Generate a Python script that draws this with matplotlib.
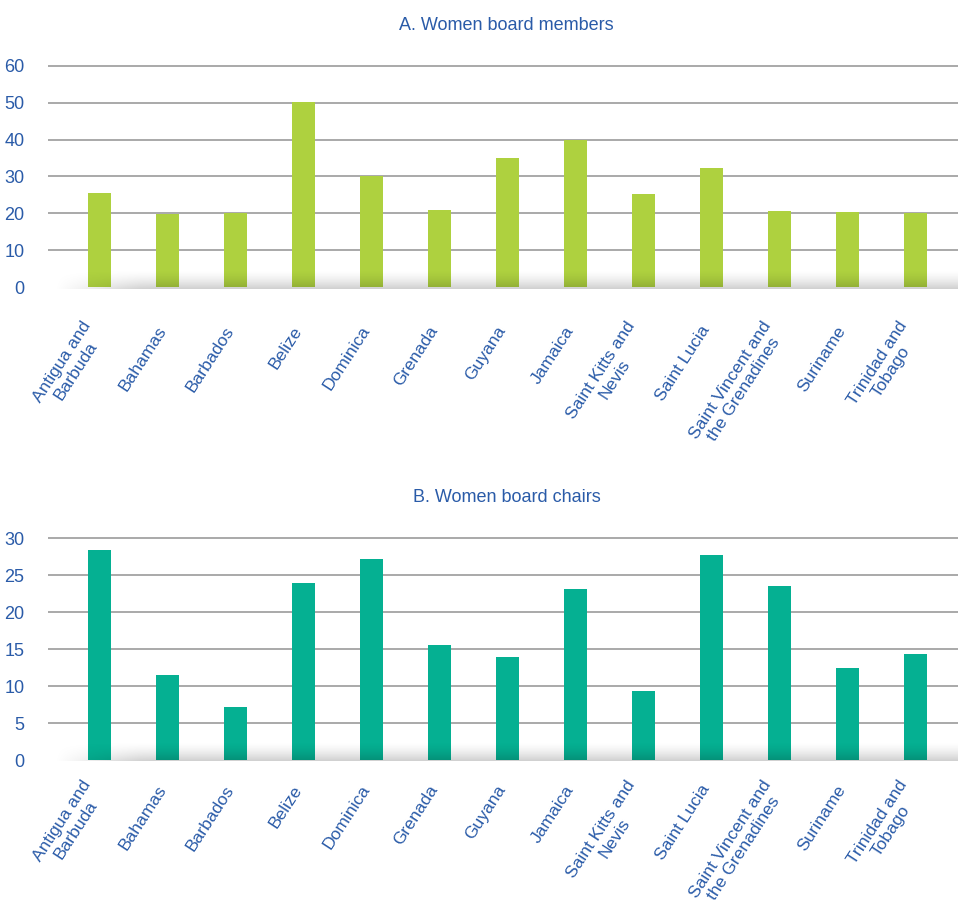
import numpy as np
import matplotlib
matplotlib.use("Agg")
import matplotlib.pyplot as plt
import matplotlib.transforms as mtransforms

plt.rcParams['font.family'] = ['Liberation Sans', 'DejaVu Sans']

countries = ["Antigua and\nBarbuda", "Bahamas", "Barbados", "Belize", "Dominica",
             "Grenada", "Guyana", "Jamaica", "Saint Kitts and\nNevis", "Saint Lucia",
             "Saint Vincent and\nthe Grenadines", "Suriname", "Trinidad and\nTobago"]
members = [25.4, 19.9, 20.2, 50.1, 30.0, 21.0, 35.0, 40.0, 25.2, 32.3, 20.5, 20.3, 20.0]
chairs = [28.4, 11.5, 7.2, 24.0, 27.2, 15.6, 14.0, 23.1, 9.3, 27.7, 23.5, 12.5, 14.3]

titles = ["A. Women board members", "B. Women board chairs"]
yticks_a = [0, 10, 20, 30, 40, 50, 60]
yticks_b = [0, 5, 10, 15, 20, 25, 30]

TXT = '#2a5ba8'
GREEN = '#aed13f'
TEAL = '#05b092'
GRID = '#a3a3a3'

fig = plt.figure(figsize=(9.58, 9.18), dpi=100)

def panel(rect, values, yticks, color, ylim, floor_h, title, title_y, xpad):
    ax = fig.add_axes(rect)
    x = np.arange(len(values))
    ax.set_xlim(-0.76, 12.63)
    ax.set_ylim(*ylim)
    for t in yticks[1:]:
        ax.axhline(t, color=GRID, lw=1.3, zorder=1)
    ax.bar(x, values, width=0.34, color=color, zorder=2)
    # floor gradient (light at top, darker at bottom)
    grad = np.zeros((64, 64, 4))
    a = 0.19 * np.linspace(0, 1, 64) ** 1.6
    grad[:, :, 3] = a[:, None]
    xfade = np.clip(np.linspace(0, 1, 64) * 10, 0, 1)
    grad[:, :, 3] *= xfade[None, :]
    ax.imshow(grad, extent=(-0.76, 12.63, ylim[0], floor_h), aspect='auto',
              origin='upper', zorder=3, interpolation='bilinear')
    ax.set_xlim(-0.76, 12.63)
    ax.set_ylim(*ylim)
    ax.set_yticks(yticks)
    ax.set_yticklabels([str(t) for t in yticks], color=TXT, fontsize=13)
    ax.tick_params(axis='y', length=0, pad=17)
    ax.set_xticks(x)
    labels = ax.set_xticklabels(countries, rotation=57, ha='right', va='center',
                                rotation_mode='anchor', color=TXT, fontsize=12.6,
                                multialignment='center', linespacing=1.12)
    ax.tick_params(axis='x', length=0, pad=xpad)
    off = mtransforms.ScaledTranslation(-5 / 100, 0, fig.dpi_scale_trans)
    for lab in labels:
        lab.set_transform(lab.get_transform() + off)
    for s in ax.spines.values():
        s.set_visible(False)
    fig.text(0.529, title_y, title, ha='center', va='center', color=TXT, fontsize=13)
    return ax

panel([0.0, 0.6857, 1.0, 0.2447], members, yticks_a, GREEN, (-0.4, 60.5), 4.8,
      titles[0], 1 - 25 / 918, 28)
panel([0.0, 0.1705, 1.0, 0.2455], chairs, yticks_b, TEAL, (-0.2, 30.3), 2.4,
      titles[1], 1 - 497 / 918, 18)

# move axes left edge to x=48px
for ax in fig.axes:
    pos = ax.get_position()
    ax.set_position([48 / 958, pos.y0, 1 - 48 / 958, pos.height])

fig.savefig('out.png', dpi=100)
